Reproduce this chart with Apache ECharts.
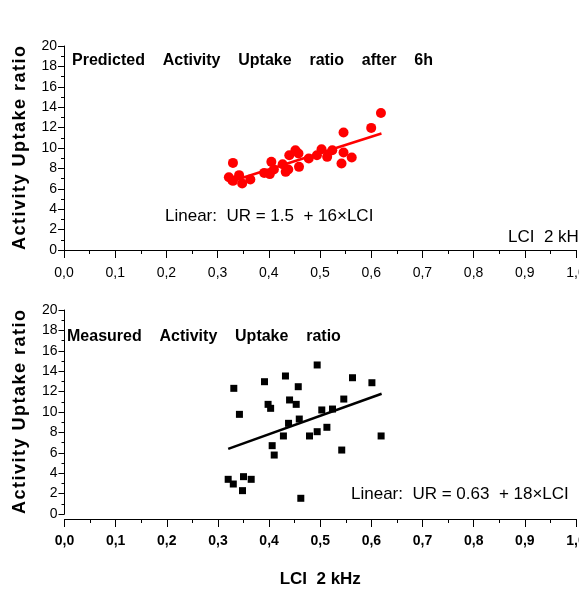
<!DOCTYPE html>
<html><head><meta charset="utf-8">
<script src="https://cdn.jsdelivr.net/npm/echarts@6/dist/echarts.min.js"></script>
<style>html,body{margin:0;padding:0;background:#fff}#c{width:579px;height:589px}</style>
</head><body><div id="c"></div>
<script>
// Predicted activity uptake ratio (red circles)
const predX = [0.322,0.330,0.330,0.342,0.348,0.364,0.391,0.402,0.405,0.410,0.427,0.433,0.438,0.440,0.452,0.458,0.459,0.478,0.494,0.503,0.514,0.524,0.542,0.546,0.546,0.562,0.600,0.619];
const predY = [7.14,8.54,6.78,7.34,6.52,6.92,7.56,7.44,8.64,7.89,8.41,7.66,7.89,9.29,9.78,9.46,8.15,8.97,9.29,9.88,9.13,9.78,8.48,9.56,11.52,9.07,11.97,13.43];
// Measured activity uptake ratio (black squares)
const measX = [0.331,0.391,0.432,0.494,0.457,0.563,0.601,0.342,0.398,0.403,0.440,0.453,0.438,0.459,0.503,0.524,0.546,0.428,0.479,0.494,0.513,0.406,0.410,0.542,0.619,0.320,0.330,0.350,0.365,0.348,0.462];
const measY = [12.32,12.97,13.53,14.61,12.48,13.36,12.87,9.77,10.75,10.36,11.18,10.75,8.89,9.31,10.20,10.29,11.27,7.65,7.65,8.07,8.50,6.70,5.78,6.27,7.65,3.40,2.94,3.66,3.40,2.29,1.54];
// Fitted lines (end points)
const predFitX = [0.32, 0.62];
const predFitY = [6.62, 11.42];
const measFitX = [0.32, 0.62];
const measFitY = [6.39, 11.79];
const xTicks = ['0,0','0,1','0,2','0,3','0,4','0,5','0,6','0,7','0,8','0,9','1,0'];
const yName = 'Activity Uptake ratio';

const zip = (a,b)=>a.map((v,i)=>[v,b[i]]);
const sans = "'Liberation Sans',Arial,sans-serif";
const spaced = yName.split('').join('\u200A');

function xAx(idx, bold){
  return {
    gridIndex: idx, type:'value', min:0, max:1, interval:0.1,
    offset: idx===1?5:0,
    axisLine:{show:true,onZero:false,lineStyle:{color:'#000',width:1}},
    axisTick:{show:true,inside:false,length:8,lineStyle:{color:'#000'}},
    minorTick:{show:true,splitNumber:2,length:4,lineStyle:{color:'#000'}},
    splitLine:{show:false},
    axisLabel:{show:true,margin:idx===1?15:16,color:'#000',fontFamily:sans,fontSize:14,fontWeight:bold?'bold':'normal',
      showMinLabel:true,showMaxLabel:true,hideOverlap:false,
      formatter:(v)=>xTicks[Math.round(v*10)]},
    name: idx===1?'LCI  2 kHz':'',
    nameLocation:'middle', nameGap:52,
    nameTextStyle:{fontFamily:sans,fontWeight:'bold',fontSize:17,color:'#000'}
  };
}
function yAx(idx){
  return {
    gridIndex: idx, type:'value', min:0, max:20, interval:2,
    axisLine:{show:true,onZero:false,lineStyle:{color:'#000',width:1}},
    axisTick:{show:true,inside:false,length:6,lineStyle:{color:'#000'}},
    minorTick:{show:true,splitNumber:2,length:3,lineStyle:{color:'#000'}},
    splitLine:{show:false},
    axisLabel:{show:true,margin:7,color:'#000',fontFamily:sans,fontSize:14},
    name: spaced, nameLocation:'middle', nameGap:35, nameRotate:90,
    nameTextStyle:{fontFamily:sans,fontWeight:'bold',fontSize:18,color:'#000'}
  };
}

const chart = echarts.init(document.getElementById('c'),null,{renderer:'canvas'});
chart.setOption({
  animation:false,
  backgroundColor:'#fff',
  title:[
    {text:'Predicted    Activity    Uptake    ratio    after    6h',left:72,top:53,padding:0,textStyle:{fontFamily:sans,fontWeight:'bold',fontSize:16,color:'#000'}},
    {text:'Measured    Activity    Uptake    ratio',left:67,top:329,padding:0,textStyle:{fontFamily:sans,fontWeight:'bold',fontSize:16,color:'#000'}},
    {text:'Linear:  UR = 1.5  + 16\u00D7LCI',left:165,top:208,padding:0,textStyle:{fontFamily:sans,fontWeight:'normal',fontSize:17,color:'#000'}},
    {text:'Linear:  UR = 0.63  + 18\u00D7LCI',left:351,top:486,padding:0,textStyle:{fontFamily:sans,fontWeight:'normal',fontSize:17,color:'#000'}},
    {text:'LCI  2 kHz',left:508,top:229,padding:0,textStyle:{fontFamily:sans,fontWeight:'normal',fontSize:17,color:'#000'}}
  ],
  grid:[
    {left:64,right:3,top:46,height:204,outerBoundsMode:'none',containLabel:false},
    {left:64.5,right:3,top:310,height:204,outerBoundsMode:'none',containLabel:false}
  ],
  xAxis:[xAx(0,false),xAx(1,true)],
  yAxis:[yAx(0),yAx(1)],
  series:[
    {type:'scatter',xAxisIndex:0,yAxisIndex:0,data:zip(predX,predY),symbol:'circle',symbolSize:10,itemStyle:{color:'#ff0000',opacity:1},z:3},
    {type:'line',xAxisIndex:0,yAxisIndex:0,data:zip(predFitX,predFitY),symbol:'none',lineStyle:{color:'#ff0000',width:2.5},z:2},
    {type:'scatter',xAxisIndex:1,yAxisIndex:1,data:zip(measX,measY),symbol:'rect',symbolSize:7,itemStyle:{color:'#000',opacity:1},z:3},
    {type:'line',xAxisIndex:1,yAxisIndex:1,data:zip(measFitX,measFitY),symbol:'none',lineStyle:{color:'#000',width:2.5},z:2}
  ]
});
</script></body></html>
